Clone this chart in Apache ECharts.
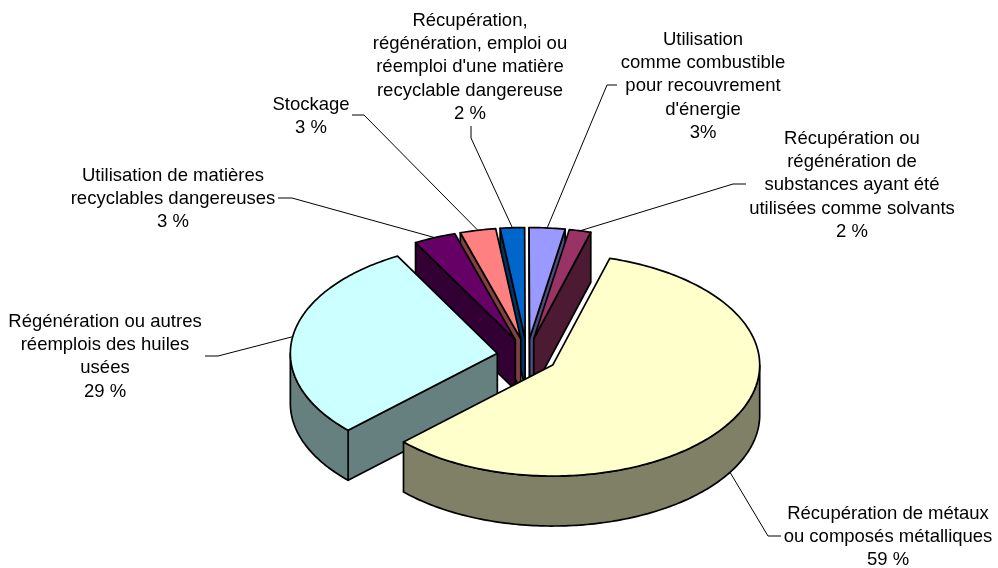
<!DOCTYPE html>
<html>
<head>
<meta charset="utf-8">
<style>html,body{margin:0;padding:0;background:#fff}#main{width:998px;height:568px}</style>
<script src="https://cdn.jsdelivr.net/npm/echarts@6/dist/echarts.min.js"></script>
</head>
<body>
<div id="main"></div>
<script>
// values, clockwise from the first cut
const categories = ['Récupération de métaux\nou composés métalliques', 'Régénération ou autres\nréemplois des huiles\nusées', 'Utilisation de matières\nrecyclables dangereuses', 'Stockage', 'Récupération,\nrégénération, emploi ou\nréemploi d\'une matière\nrecyclable dangereuse', 'Utilisation\ncomme combustible\npour recouvrement\nd\'énergie', 'Récupération ou\nrégénération de\nsubstances ayant été\nutilisées comme solvants'];
const values = [58.6, 29.3, 3.3, 2.8, 1.9, 2.8, 1.7];
const valueLabels = ['59 %', '29 %', '3 %', '3 %', '2 %', '3%', '2 %'];
const topColors = ['#FFFFCC', '#CCFFFF', '#660066', '#FF8080', '#0066CC', '#9999FF', '#993366'];
const sideColors = ['#808066', '#668080', '#330033', '#804040', '#003366', '#4D4D80', '#4D1A33'];
// label centre x, first line y, then the leader's elbow and end beside the text
const labelPlaces = [[888, 513], [105, 321], [173, 175], [311, 104], [470, 20], [703, 39], [852, 138]];
const leaderEnds = [[[768, 536], [781, 536]], [[218, 356], [205, 356]], [[292, 198], [278, 198]], [[364, 115], [352, 115]], [[471, 138], [471, 126]], [[607, 85], [617, 85]], [[733, 184], [746, 184]]];

const centerX = 527, centerY = 356, radiusX = 207, radiusY = 111;
const explodeX = 30, explodeY = 17.5, depth = 50, startAngle = 16;
const lineStyle = {stroke: '#000', lineWidth: 1.7, lineJoin: 'round'};

const total = values.reduce((a, b) => a + b, 0);
let cursor = startAngle;
const slices = values.map((v, i) => {
  const from = cursor, to = cursor + v / total * 360;
  cursor = to;
  const mid = (from + to) / 2 * Math.PI / 180;
  return {i, from, to, mid, ox: centerX + explodeX * Math.sin(mid), oy: centerY - explodeY * Math.cos(mid)};
});

function rim(s, deg, drop) {
  const a = deg * Math.PI / 180;
  return [s.ox + radiusX * Math.sin(a), s.oy - radiusY * Math.cos(a) + (drop || 0)];
}
function arc(s, from, to, drop) {
  const pts = [];
  const n = Math.max(2, Math.ceil(to - from));
  for (let k = 0; k <= n; k++) pts.push(rim(s, from + (to - from) * k / n, drop));
  return pts;
}
function face(points, fill) {
  return {type: 'polygon', shape: {points}, style: Object.assign({fill}, lineStyle)};
}

// back slices first so the front ones cover them
const drawOrder = slices.slice().sort((a, b) => Math.cos(b.mid) - Math.cos(a.mid)).map(s => s.i);

function renderSlice(params, api) {
  const s = slices[api.value(0)];
  const side = sideColors[s.i];
  const kids = [];
  const apex = [s.ox, s.oy], apexLow = [s.ox, s.oy + depth];
  if (Math.sin(s.from * Math.PI / 180) < 0) {
    kids.push(face([apex, rim(s, s.from), rim(s, s.from, depth), apexLow], side));
  }
  if (Math.sin(s.to * Math.PI / 180) > 0) {
    kids.push(face([apex, rim(s, s.to), rim(s, s.to, depth), apexLow], side));
  }
  const a = Math.max(s.from, 90), b = Math.min(s.to, 270);
  if (b > a) {
    kids.push(face(arc(s, a, b).concat(arc(s, a, b, depth).reverse()), side));
  }
  kids.push(face([apex].concat(arc(s, s.from, s.to)), topColors[s.i]));
  return {type: 'group', children: kids};
}

function renderLabel(params, api) {
  const i = api.value(0);
  const s = slices[i];
  const midDeg = (s.from + s.to) / 2;
  const start = rim(s, midDeg, Math.cos(s.mid) < 0 ? depth : 0);
  return {type: 'group', children: [
    {type: 'polyline', shape: {points: [start].concat(leaderEnds[i])}, style: {stroke: '#000', lineWidth: 1, fill: null}},
    {type: 'text', style: {
      x: labelPlaces[i][0], y: labelPlaces[i][1] - 11,
      text: categories[i] + '\n' + valueLabels[i],
      fill: '#000', font: '18.5px "Liberation Sans", Arial, sans-serif', lineHeight: 23.3,
      align: 'center', textAlign: 'center', verticalAlign: 'top'
    }}
  ]};
}

const chart = echarts.init(document.getElementById('main'));
chart.setOption({
  animation: false,
  backgroundColor: '#fff',
  series: [
    {type: 'custom', coordinateSystem: 'none', renderItem: renderSlice, data: drawOrder.map(i => [i]), silent: true, z: 2},
    {type: 'custom', coordinateSystem: 'none', renderItem: renderLabel, data: slices.map(s => [s.i]), silent: true, z: 3}
  ]
});
</script>
</body>
</html>
